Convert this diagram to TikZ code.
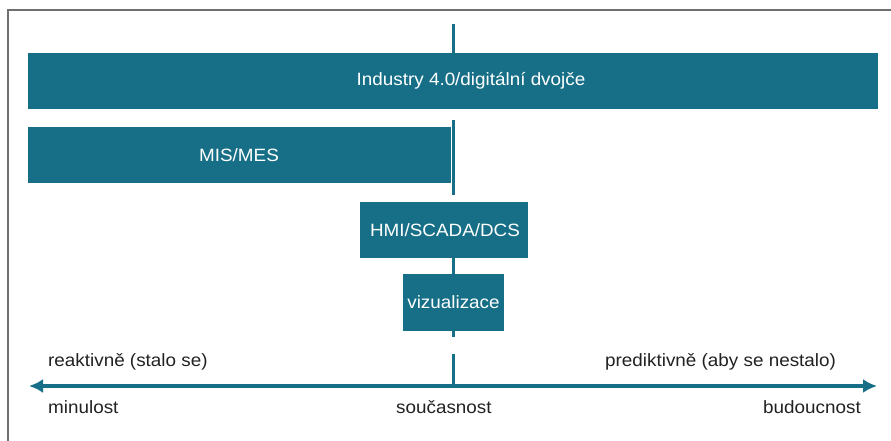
\documentclass[tikz,border=0pt]{standalone}
\usepackage{fontspec}
\setmainfont{Liberation Sans}[FakeStretch=1.06]
\usetikzlibrary{arrows.meta}
\definecolor{teal1}{HTML}{176F87}
\definecolor{txt}{HTML}{222222}
\definecolor{frame}{HTML}{707070}
\tikzset{
  bar/.style={fill=teal1, draw=none, inner sep=0pt, anchor=north west},
  boxtext/.style={text=white, font=\fontsize{17.8}{20}\selectfont, inner sep=0pt},
  lbl/.style={text=txt, font=\fontsize{17.8}{20}\selectfont, inner sep=0pt, anchor=base west},
  vline/.style={draw=teal1, line width=3pt},
  axis/.style={draw=teal1, line width=3.5pt, {Latex[length=14pt,width=14pt]}-{Latex[length=14pt,width=14pt]}}
}
\begin{document}
\begin{tikzpicture}[x=1pt,y=-1pt]
\useasboundingbox (0,0) rectangle (891,441);
\fill[white] (0,0) rectangle (891,441);
% frame
\draw[frame, line width=1.2pt] (8,441) -- (8,10) -- (891,10);
% bars
\node (ind) [bar, minimum width=850pt, minimum height=56pt] at (28,53) {};
\node (indt) [boxtext] at (471,81) {Industry 4.0/digitální dvojče};
\node (mis) [bar, minimum width=423pt, minimum height=56pt] at (28,127) {};
\node (mist) [boxtext] at (239,155) {MIS/MES};
\node (hmi) [bar, minimum width=168pt, minimum height=56pt] at (360,202) {};
\node (hmit) [boxtext] at (445,230) {HMI/SCADA/DCS};
\node (viz) [bar, minimum width=101pt, minimum height=57pt] at (403,274) {};
\node (vizt) [boxtext] at (453.5,302.5) {vizualizace};
% vertical line segments
\coordinate (v0) at (453,24);
\coordinate (v1) at (453,120);
\coordinate (v2) at (453,195);
\coordinate (v3) at (453,337);
\coordinate (v4) at (453,354);
\coordinate (axl) at (29,386);
\coordinate (axr) at (877,386);
\draw[vline] (v0) -- (v0 |- ind.north);
\draw[vline] (v1) -- (v2);
\draw[vline] (v1 |- hmi.south) -- (v1 |- viz.north);
\draw[vline] (v1 |- viz.south) -- (v3);
\draw[vline] (v4) -- (v4 |- axl);
% axis
\draw[axis] (axl) -- (axr);
% labels
\node (re) [lbl] at (48,366) {reaktivně (stalo se)};
\node (pr) [lbl] at (605,366) {prediktivně (aby se nestalo)};
\node (mi) [lbl] at (48,413) {minulost};
\node (so) [lbl] at (396,413) {současnost};
\node (bu) [lbl] at (763,413) {budoucnost};
\end{tikzpicture}
\end{document}
